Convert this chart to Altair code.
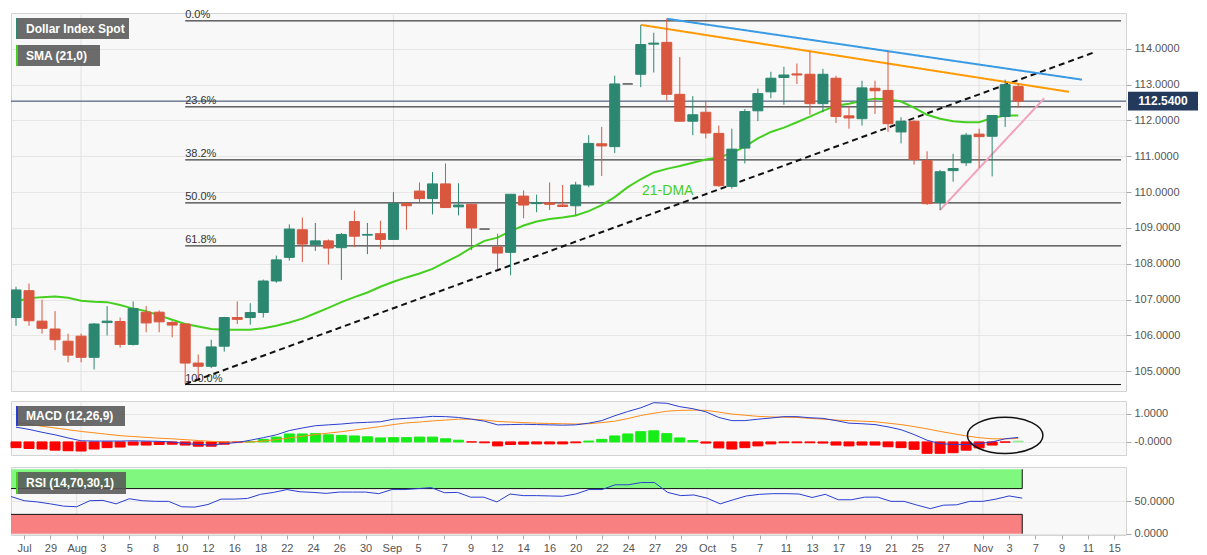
import json

import altair as alt
import pandas as pd

# daily candles, index 0..77 (late Jul .. Nov 4)
opens = [106.50, 107.25, 106.40, 106.18, 105.84, 105.98, 105.39, 106.36, 106.39, 105.75,
         106.65, 106.65, 106.36, 106.32, 105.23, 105.14, 105.70, 106.50, 106.50, 106.64,
         107.52, 108.18, 108.95, 108.53, 108.64, 108.45, 109.18, 108.80, 108.84, 108.68,
         109.68, 110.03, 109.82, 110.23, 109.59, 109.66, 108.97, 108.47, 108.32, 109.89,
         109.68, 109.70, 109.64, 109.62, 110.20, 111.35, 111.27, 113.02, 113.29, 114.13,
         114.18, 112.73, 111.98, 112.23, 111.64, 110.16, 111.23, 112.27, 112.80, 113.20,
         113.30, 113.29, 112.47, 113.18, 112.13, 112.05, 112.90, 112.84, 111.68, 111.98,
         110.88, 109.71, 110.60, 110.82, 111.62, 111.56, 112.11, 112.95]
highs = [107.36, 107.45, 107.00, 106.68, 106.05, 106.05, 106.35, 106.82, 106.50, 106.95,
         106.82, 106.70, 106.40, 106.34, 105.47, 105.88, 106.52, 106.95, 106.90, 107.56,
         108.23, 109.10, 109.29, 109.14, 108.68, 108.86, 109.48, 109.14, 109.20, 110.00,
         109.70, 110.27, 110.56, 110.80, 110.25, 109.68, 108.97, 108.84, 109.94, 110.05,
         109.93, 110.27, 110.20, 110.29, 111.59, 111.82, 113.25, 113.02, 114.66, 114.45,
         114.84, 113.77, 112.68, 112.53, 111.86, 111.77, 112.32, 112.89, 113.36, 113.50,
         113.59, 113.93, 113.44, 113.25, 112.41, 113.11, 113.11, 113.93, 112.09, 112.00,
         111.14, 110.62, 111.07, 111.65, 111.77, 112.14, 113.14, 113.02]
lows = [106.27, 106.27, 106.05, 105.59, 105.25, 105.25, 105.05, 106.00, 105.66, 105.72,
        106.09, 106.09, 105.95, 104.64, 104.82, 105.09, 105.55, 106.32, 106.30, 106.50,
        107.47, 108.09, 108.05, 108.36, 107.98, 107.55, 108.47, 108.27, 108.41, 108.68,
        108.95, 109.72, 109.38, 109.57, 109.35, 108.38, 108.97, 107.86, 107.68, 109.27,
        109.44, 109.50, 109.59, 109.36, 110.14, 110.45, 111.09, 113.02, 112.93, 113.34,
        112.56, 111.98, 111.59, 111.50, 110.15, 110.10, 110.80, 111.98, 112.62, 112.44,
        113.02, 112.16, 112.23, 111.93, 111.77, 111.86, 112.18, 111.68, 111.36, 110.77,
        109.64, 109.50, 110.29, 110.73, 110.68, 110.44, 111.82, 112.36]
closes = [107.27, 106.41, 106.20, 105.88, 105.45, 105.39, 106.32, 106.40, 105.75, 106.75,
          106.35, 106.38, 106.29, 105.23, 105.14, 105.68, 106.50, 106.45, 106.64, 107.52,
          108.11, 108.97, 108.55, 108.64, 108.44, 108.82, 108.77, 108.82, 108.68, 109.68,
          109.62, 109.82, 110.23, 109.57, 109.64, 109.00, 108.97, 108.30, 109.94, 109.64,
          109.70, 109.66, 109.60, 110.20, 111.36, 111.29, 113.02, 113.02, 114.12, 114.16,
          112.73, 111.98, 112.16, 111.65, 110.18, 111.20, 112.25, 112.75, 113.18, 113.27,
          113.27, 112.47, 113.29, 112.11, 112.07, 112.91, 112.83, 111.91, 111.98, 110.91,
          109.68, 110.57, 110.66, 111.59, 111.55, 112.14, 113.00, 112.54]
sma21 = [106.95, 107.04, 107.07, 107.09, 107.05, 106.97, 106.94, 106.93, 106.85, 106.75,
         106.68, 106.56, 106.44, 106.32, 106.25, 106.18, 106.16, 106.16, 106.16, 106.20,
         106.27, 106.36, 106.47, 106.62, 106.77, 106.93, 107.07, 107.20, 107.36, 107.50,
         107.62, 107.73, 107.86, 108.05, 108.23, 108.45, 108.64, 108.73, 108.91, 109.07,
         109.18, 109.25, 109.29, 109.35, 109.47, 109.64, 109.86, 110.14, 110.36, 110.55,
         110.65, 110.73, 110.82, 110.91, 110.97, 111.09, 111.27, 111.50, 111.68, 111.80,
         111.95, 112.11, 112.27, 112.41, 112.47, 112.55, 112.61, 112.59, 112.53, 112.36,
         112.16, 112.05, 111.98, 111.95, 111.95, 112.07, 112.14, 112.14]
macd_line = [0.52, 0.44, 0.34, 0.25, 0.14, 0.04, 0.03, 0.03, 0.03, 0.04,
             0.03, 0.02, 0.00, -0.06, -0.09, -0.11, -0.06, -0.02, 0.06, 0.15,
             0.25, 0.40, 0.49, 0.57, 0.60, 0.63, 0.67, 0.69, 0.71, 0.80,
             0.83, 0.86, 0.90, 0.89, 0.86, 0.80, 0.73, 0.60, 0.61, 0.62,
             0.61, 0.60, 0.59, 0.60, 0.66, 0.75, 0.92, 1.07, 1.20, 1.38,
             1.36, 1.24, 1.17, 1.06, 0.86, 0.75, 0.75, 0.80, 0.84, 0.89,
             0.89, 0.85, 0.83, 0.75, 0.66, 0.64, 0.61, 0.53, 0.43, 0.26,
             0.06, -0.06, -0.09, -0.09, -0.06, 0.00, 0.11, 0.16]
signal_line = [0.69, 0.62, 0.55, 0.49, 0.43, 0.37, 0.32, 0.27, 0.22, 0.19,
               0.16, 0.13, 0.11, 0.08, 0.05, 0.02, 0.00, -0.01, 0.00, 0.03,
               0.08, 0.14, 0.20, 0.26, 0.31, 0.36, 0.42, 0.48, 0.54, 0.61,
               0.67, 0.70, 0.74, 0.77, 0.80, 0.80, 0.77, 0.72, 0.70, 0.68,
               0.66, 0.65, 0.64, 0.63, 0.64, 0.68, 0.73, 0.82, 0.93, 1.01,
               1.08, 1.11, 1.12, 1.11, 1.05, 0.98, 0.94, 0.90, 0.88, 0.87,
               0.86, 0.83, 0.80, 0.77, 0.75, 0.73, 0.71, 0.66, 0.61, 0.54,
               0.46, 0.37, 0.29, 0.21, 0.15, 0.11, 0.11, 0.12]
macd_hist = [-0.20, -0.23, -0.25, -0.29, -0.31, -0.32, -0.25, -0.20, -0.18, -0.11,
             -0.11, -0.09, -0.08, -0.11, -0.15, -0.15, -0.08, -0.02, 0.01, 0.09,
             0.17, 0.28, 0.28, 0.29, 0.25, 0.23, 0.21, 0.18, 0.14, 0.15,
             0.15, 0.17, 0.17, 0.11, 0.06, 0.00, -0.03, -0.14, -0.09, -0.08,
             -0.07, -0.07, -0.07, -0.03, 0.03, 0.09, 0.21, 0.28, 0.36, 0.39,
             0.29, 0.14, 0.05, -0.04, -0.21, -0.25, -0.20, -0.14, -0.07, -0.03,
             -0.03, -0.03, -0.04, -0.11, -0.14, -0.11, -0.11, -0.17, -0.20, -0.26,
             -0.40, -0.40, -0.38, -0.29, -0.21, -0.11, -0.01, 0.03]
rsi14 = [57.7, 51.2, 49.3, 46.3, 42.8, 41.8, 51.2, 51.7, 46.3, 54.2,
         51.2, 50.2, 50.2, 41.8, 41.3, 45.3, 53.7, 53.7, 54.7, 61.1,
         64.1, 68.5, 65.1, 64.1, 62.6, 64.6, 64.6, 64.6, 62.1, 68.5,
         68.5, 70.0, 71.5, 63.6, 64.1, 56.7, 56.7, 49.3, 61.6, 59.1,
         59.1, 58.6, 58.1, 61.6, 68.5, 68.5, 75.9, 75.9, 79.4, 79.4,
         64.1, 59.1, 60.1, 55.2, 46.3, 52.7, 58.6, 61.1, 62.1, 62.1,
         61.6, 56.2, 61.1, 52.7, 52.7, 56.7, 56.7, 50.2, 50.2, 44.3,
         38.9, 44.3, 44.8, 50.2, 50.2, 53.7, 58.6, 55.2]

tick_pos = [1, 3, 5, 7, 9, 11, 13, 15, 17, 19, 21, 23, 25, 27, 29, 31, 33, 35, 37, 39,
            41, 43, 45, 47, 49, 51, 53, 55, 57, 59, 61, 63, 65, 67, 69, 71,
            74, 76, 78, 80, 82, 84]
tick_labels = ["Jul", "29", "Aug", "3", "5", "8", "10", "12", "16", "18", "22", "24", "26",
               "30", "Sep", "5", "7", "9", "12", "14", "16", "20", "22", "24", "27", "29",
               "Oct", "5", "7", "11", "13", "17", "19", "21", "25", "27",
               "Nov", "3", "7", "9", "11", "15"]
month_pos = [5, 29, 53, 74]

fib_labels = ["0.0%", "23.6%", "38.2%", "50.0%", "61.8%", "100.0%"]
fib_values = [114.78, 112.38, 110.90, 109.70, 108.50, 104.63]
fib_start = 13

trend_k = [[13, 82.9], [48.0, 80.9], [50.0, 81.9], [71.0, 79.0]]
trend_v = [[104.64, 113.91], [114.67, 112.80], [114.84, 113.14], [109.50, 112.62]]
trend_style = [("#111111", [6, 4]), ("#ff9a00", [1, 0]), ("#3a9be4", [1, 0]), ("#f2a2bd", [1, 0])]

last_price = 112.54
rsi_bands = [(70, 100, "#80f880"), (0, 30, "#f88080")]

UP, DOWN, FLAT = "#2c8770", "#d9573f", "#555555"
POS, NEG, FADE = "#16ec16", "#ff0000", "#9fe89f"

W = 1115
X_DOM = [0, 84.9]
FONT = "Liberation Sans"
xs = alt.Scale(domain=X_DOM, nice=False, zero=False)
n = len(opens)
kk = list(range(n))

label_arr = [""] * 86
for p, t in zip(tick_pos, tick_labels):
    label_arr[p] = t
x_axis = alt.Axis(values=tick_pos, labelExpr=json.dumps(label_arr) + "[datum.value]",
                  grid=False, labelOverlap=False, labelFlush=False, tickSize=4,
                  domain=False, title="", labelPadding=3)


def xq(field, axis=None):
    if axis is None:
        return alt.X(field, type="quantitative", scale=xs, axis=None)
    return alt.X(field, type="quantitative", scale=xs, axis=axis)


def label_box(text, x2, y1, y2, accent):
    d = pd.DataFrame({"t": [text]})
    box = alt.Chart(d).mark_rect(color="#565656", opacity=0.88).encode(
        x=alt.value(5), x2=alt.value(x2), y=alt.value(y1), y2=alt.value(y2))
    bar = alt.Chart(d).mark_rect(color=accent).encode(
        x=alt.value(5), x2=alt.value(7), y=alt.value(y1), y2=alt.value(y2))
    txt = alt.Chart(d).mark_text(align="left", baseline="middle", color="white",
                                 fontSize=12, fontWeight="bold", font=FONT).encode(
        x=alt.value(15), y=alt.value((y1 + y2) / 2), text="t:N")
    return [box, bar, txt]


def month_rules(axis=None):
    return alt.Chart(pd.DataFrame({"k": month_pos})).mark_rule(
        color="#e2e2e2", strokeWidth=1).encode(x=xq("k", axis))


# ---------- main price panel ----------
ys = alt.Scale(domain=[104.45, 115.0], nice=False, zero=False)
y_axis = alt.Axis(orient="right", values=list(range(105, 115)), format=".4f",
                  grid=True, title="")


def ym(field):
    return alt.Y(field, type="quantitative", scale=ys, axis=y_axis)


cd = pd.DataFrame({"k": kk, "open": opens, "high": highs, "low": lows, "close": closes})
cd["col"] = [UP if c > o else (DOWN if c < o else FLAT) for o, c in zip(opens, closes)]

wicks = alt.Chart(cd).mark_rule(strokeWidth=1, clip=True).encode(
    x=xq("k"), y=ym("low"), y2="high", color=alt.Color("col:N", scale=None))
bodies = alt.Chart(cd).mark_bar(size=10, strokeWidth=1, clip=True).encode(
    x=xq("k"), y=ym("open"), y2="close",
    color=alt.Color("col:N", scale=None), stroke=alt.Stroke("col:N", scale=None))

sma = alt.Chart(pd.DataFrame({"k": kk, "v": sma21})).mark_line(
    color="#45cf1f", strokeWidth=2, clip=True).encode(x=xq("k"), y=ym("v"))

fib = pd.DataFrame({"lab": fib_labels, "v": fib_values, "x0": fib_start, "x1": X_DOM[1]})
fib_rules = alt.Chart(fib).mark_rule(color="#111111", strokeWidth=1).encode(
    x=xq("x0"), x2="x1", y=ym("v"))
fib_text = alt.Chart(fib).mark_text(align="left", baseline="bottom", dy=-1, fontSize=11,
                                    color="#333333", font=FONT).encode(
    x=xq("x0"), y=ym("v"), text="lab:N")

price_df = pd.DataFrame({"v": [last_price], "lab": [f"{last_price:.4f}"]})
price_line = alt.Chart(price_df).mark_rule(color="#2c3f62", strokeWidth=1).encode(y=ym("v"))
tag_path = "M-1,-0.27L1,-0.27L1,0.27L-1,0.27Z"
price_tag = alt.Chart(price_df).mark_point(shape=tag_path, size=4900, filled=True,
                                           color="#233a5c", opacity=1).encode(
    x=alt.value(W + 37), y=ym("v"))
price_txt = alt.Chart(price_df).mark_text(color="white", fontSize=12, fontWeight="bold",
                                          font=FONT).encode(
    x=alt.value(W + 37), y=ym("v"), text="lab:N")

trend_layers = []
for (k0, k1), (v0, v1), (col, dash) in zip(trend_k, trend_v, trend_style):
    td = pd.DataFrame({"k": [k0, k1], "v": [v0, v1]})
    trend_layers.append(alt.Chart(td).mark_line(color=col, strokeWidth=2, strokeDash=dash)
                        .encode(x=xq("k"), y=ym("v")))

dma_txt = alt.Chart(pd.DataFrame({"k": [48.1], "v": [110.03], "t": ["21-DMA"]})).mark_text(
    align="left", baseline="middle", color="#45cf1f", fontSize=14, font=FONT).encode(
    x=xq("k"), y=ym("v"), text="t:N")

main = alt.layer(
    month_rules(), fib_rules, fib_text, price_line, *trend_layers, sma, wicks, bodies,
    dma_txt, price_tag, price_txt,
    *label_box("Dollar Index Spot", 118, 5, 26, UP),
    *label_box("SMA (21,0)", 89, 32, 53, "#45cf1f"),
).properties(width=W, height=378)

# ---------- MACD panel ----------
ys_m = alt.Scale(domain=[-0.46, 1.44], nice=False, zero=False)
m_axis = alt.Axis(orient="right", values=[0, 1], grid=True, title="",
                  labelExpr="datum.value == 0 ? '-0.0000' : format(datum.value, '.4f')")


def ymm(field):
    return alt.Y(field, type="quantitative", scale=ys_m, axis=m_axis)


md = pd.DataFrame({"k": kk, "macd": macd_line, "sig": signal_line, "hist": macd_hist})
md["col"] = [POS if h > 0 else NEG for h in macd_hist]
md.loc[n - 1, "col"] = FADE
hist = alt.Chart(md).mark_bar(size=10, strokeWidth=1).encode(
    x=xq("k"), y=ymm("hist"), y2=alt.datum(0),
    color=alt.Color("col:N", scale=None), stroke=alt.Stroke("col:N", scale=None))
sig = alt.Chart(md).mark_line(color="#ff8c1a", strokeWidth=1).encode(x=xq("k"), y=ymm("sig"))
mline = alt.Chart(md).mark_line(color="#2a3fd0", strokeWidth=1).encode(x=xq("k"), y=ymm("macd"))

ellipse_path = "M-1,0A1,0.48,0,1,1,1,0A1,0.48,0,1,1,-1,0Z"
ellipse = alt.Chart(pd.DataFrame({"k": [76.0], "v": [0.23]})).mark_point(
    shape=ellipse_path, size=5700, filled=False, color="#111111", strokeWidth=1.5,
    opacity=1).encode(x=xq("k"), y=ymm("v"))

macd = alt.layer(
    month_rules(), hist, sig, mline, ellipse,
    *label_box("MACD (12,26,9)", 114, 5, 25, "#2a3fd0"),
).properties(width=W, height=54)

# ---------- RSI panel ----------
ys_r = alt.Scale(domain=[-2, 103.5], nice=False, zero=False)
r_axis = alt.Axis(orient="right", values=[0, 50], format=".4f", grid=True, title="")


def yr(field):
    return alt.Y(field, type="quantitative", scale=ys_r, axis=r_axis)


bands = pd.DataFrame({"y0": [b[0] for b in rsi_bands], "y1": [b[1] for b in rsi_bands],
                      "c": [b[2] for b in rsi_bands], "x0": X_DOM[0], "x1": n - 1})
band_rect = alt.Chart(bands).mark_rect().encode(
    x=xq("x0", x_axis), x2="x1", y=yr("y0"), y2="y1",
    color=alt.Color("c:N", scale=None))
edge = pd.DataFrame({"v": [70, 30], "x0": X_DOM[0], "x1": n - 1})
band_edges = alt.Chart(edge).mark_rule(color="#111111", strokeWidth=1).encode(
    x=xq("x0", x_axis), x2="x1", y=yr("v"))
band_right = alt.Chart(bands).mark_rule(color="#111111", strokeWidth=1).encode(
    x=xq("x1", x_axis), y=yr("y0"), y2="y1")
rsi_line = alt.Chart(pd.DataFrame({"k": kk, "v": rsi14})).mark_line(
    color="#2a3fd0", strokeWidth=1).encode(x=xq("k", x_axis), y=yr("v"))

rsi = alt.layer(
    month_rules(x_axis), band_rect, band_edges, band_right, rsi_line,
    *label_box("RSI (14,70,30,1)", 115, 5, 27, "#45cf1f"),
).properties(width=W, height=68)

chart = alt.vconcat(main, macd, rsi, spacing=8).properties(
    padding=0, background="white"
).configure_view(
    stroke="#d4d4d4", fill="#f8f8f8"
).configure_axis(
    labelColor="#555555", labelFontSize=11, labelFont=FONT, tickColor="#aaaaaa",
    tickSize=5, domain=False, gridColor="#e6e6e6", labelPadding=3
)

chart.save("out.html", embed_options={"renderer": "svg", "actions": False})
